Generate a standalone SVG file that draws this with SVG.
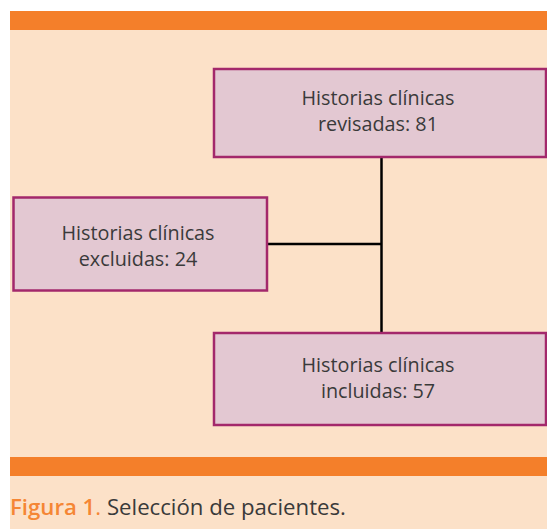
<svg xmlns="http://www.w3.org/2000/svg" width="547" height="529" viewBox="0 0 547 529">
<style>
.box{fill:#e3c8d2;stroke:#a3286b;stroke-width:2.5}
.lbl{font-family:"Open Sans",Lato,"Liberation Sans",sans-serif;font-size:19.8px;fill:#3a3a3a;text-anchor:middle}
.conn{stroke:#000;stroke-width:2.5;fill:none}
.bar{fill:#f47f2a}
</style>
<rect x="0" y="0" width="547" height="529" fill="#ffffff"/>
<rect x="10" y="11" width="537" height="518" fill="#fce1c8"/>
<rect class="bar" x="10" y="11" width="537" height="19"/>
<rect class="bar" x="10" y="457" width="537" height="19"/>
<g id="connectors">
<line class="conn" x1="381.5" y1="157" x2="381.5" y2="333"/>
<line class="conn" x1="267" y1="244" x2="381.5" y2="244"/>
</g>
<g id="n-revisadas">
<rect class="box" x="214" y="69" width="332" height="88"/>
<text class="lbl" x="378" y="105">Historias clínicas</text>
<text class="lbl" x="378" y="131">revisadas: 81</text>
</g>
<g id="n-excluidas">
<rect class="box" x="13.5" y="197.5" width="253.5" height="93"/>
<text class="lbl" x="138" y="240">Historias clínicas</text>
<text class="lbl" x="138" y="266">excluidas: 24</text>
</g>
<g id="n-incluidas">
<rect class="box" x="214" y="333" width="332" height="92"/>
<text class="lbl" x="378" y="372">Historias clínicas</text>
<text class="lbl" x="378" y="398">incluidas: 57</text>
</g>
<text x="10" y="515" font-family="'Open Sans',Lato,'Liberation Sans',sans-serif" font-size="22.2" fill="#3a3a3a"><tspan fill="#f58634" font-weight="600">Figura 1</tspan><tspan fill="#f58634">.</tspan> Selección de pacientes.</text>
</svg>
